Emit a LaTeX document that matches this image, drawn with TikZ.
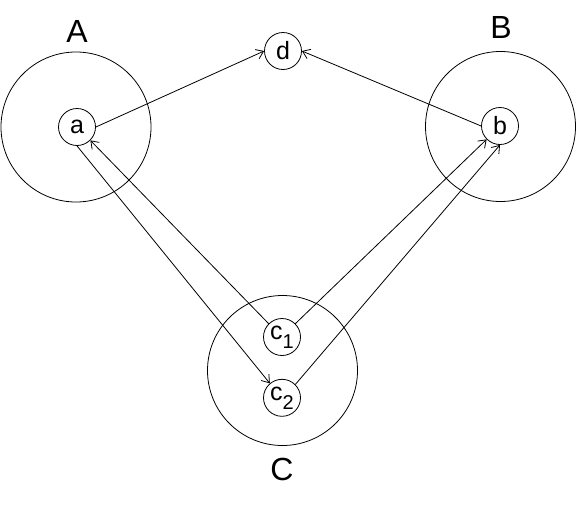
\documentclass[tikz,border=0pt]{standalone}
\usepackage{fontspec}
\setmainfont{Liberation Sans}
\usetikzlibrary{arrows.meta,positioning}
\newcommand\idx[1]{\raisebox{-4.5pt}{\fontsize{10}{12}\selectfont#1}}

\begin{document}
\begin{tikzpicture}[x=0.5pt,y=-0.5pt, node distance=11.5pt,
        region/.style={circle,draw,thin,minimum size=75pt,inner sep=0pt},
        elem/.style={circle,draw,thin,minimum size=18.5pt,inner sep=0pt,
          font=\fontsize{12.5}{14}\selectfont},
        tag/.style={inner sep=0pt,font=\fontsize{16}{19}\selectfont},
        arrow/.style={-{Straight Barb[length=3.5pt,width=5pt]},thin}]
        \useasboundingbox (0,0) rectangle (577,504);
        % regions
        \node[region] (A) at (76,127) {};
        \node[region] (B) at (500.5,126.5) {};
        \node[region] (C) at (282.5,370.5) {};
        \node[tag] at (77,31) {A};
        \node[tag] at (501,27) {B};
        \node[tag] at (282,469) {C};
        % elements
        \node[elem] (a) at (77,127) {a};
        \node[elem] (b) at (500,126) {b};
        \node[elem] (d) at (283,51) {d};
        \node[elem] (c1) at (282,337) {c\idx{1}};
        \node[elem,below=of c1] (c2) {c\idx{2}};
        \draw[arrow] (a.east) -- (d.west);
        \draw[arrow] (b.west) -- (d.east);
        \draw[arrow] (c1.135) -- (a.-45);
        \draw[arrow] (a.south) -- (c2.130);
        \draw[arrow] (c1.45) -- (b.225);
        \draw[arrow] (c2.45) -- (b.south);
      \end{tikzpicture}
\end{document}
